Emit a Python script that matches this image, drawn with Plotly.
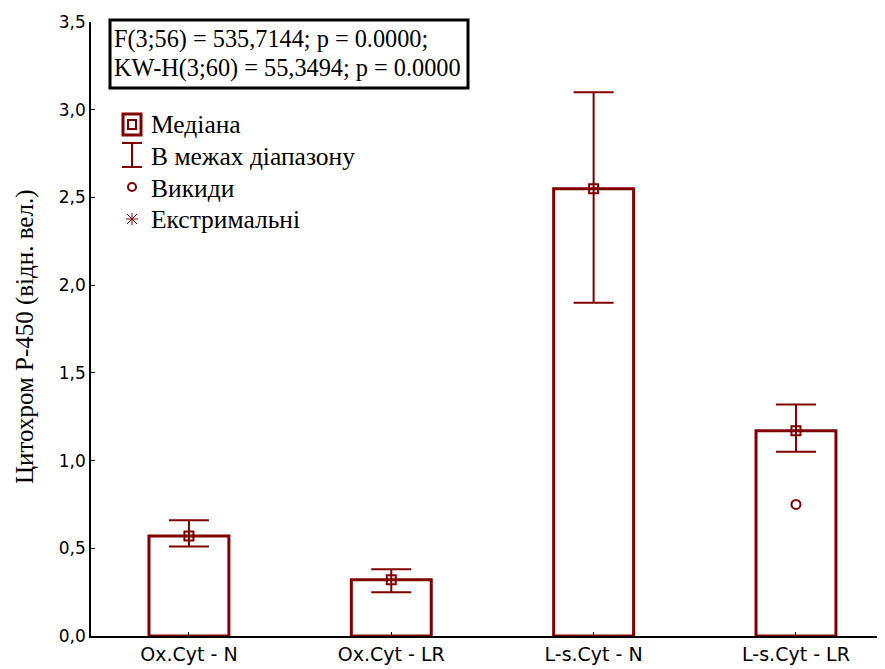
import plotly.graph_objects as go

categories = ["Ox.Cyt - N", "Ox.Cyt - LR", "L-s.Cyt - N", "L-s.Cyt - LR"]
medians = [0.57, 0.32, 2.55, 1.17]
range_max = [0.66, 0.38, 3.10, 1.32]
range_min = [0.51, 0.25, 1.90, 1.05]
outlier_cats = ["L-s.Cyt - LR"]
outlier_vals = [0.75]
stats_lines = ["F(3;56) = 535,7144; p = 0.0000;", "KW-H(3;60) = 55,3494; p = 0.0000"]
legend_labels = ["Медіана", "В межах діапазону", "Викиди", "Екстримальні"]
y_title = "Цитохром Р-450 (відн. вел.)"

RED = "#800000"
OFF = 8  # page body margin
W, H = 885 - OFF, 669 - OFF
L, R, T = 91 - OFF, 0, 22 - OFF
PH = 614
B = H - T - PH
PW = W - L - R

def px(x):
    # x in window pixels -> paper
    return (x - OFF - L) / PW

def py(y):
    # y in window pixels -> paper
    return (T + PH - (y - OFF)) / PH

fig = go.Figure()

fig.add_trace(go.Bar(
    x=categories, y=medians, width=0.395,
    marker=dict(color="white", line=dict(color=RED, width=3)),
    showlegend=False, hoverinfo="skip",
))

fig.add_trace(go.Scatter(
    x=categories, y=medians, mode="markers",
    marker=dict(symbol="square-open", size=9, color=RED, line=dict(color=RED, width=2)),
    error_y=dict(
        type="data", symmetric=False,
        array=[mx - m for mx, m in zip(range_max, medians)],
        arrayminus=[m - mn for m, mn in zip(medians, range_min)],
        color=RED, thickness=2, width=20,
    ),
    showlegend=False,
))

fig.add_trace(go.Scatter(
    x=outlier_cats, y=outlier_vals, mode="markers",
    marker=dict(symbol="circle-open", size=9, color=RED, line=dict(color=RED, width=2)),
    showlegend=False,
))

shapes = []
annotations = []

# Stats box
shapes.append(dict(type="rect", xref="paper", yref="paper",
                   x0=px(110), x1=px(468), y0=py(88), y1=py(20),
                   line=dict(color="black", width=3), fillcolor="white", layer="above"))
for i, line in enumerate(stats_lines):
    annotations.append(dict(xref="paper", yref="paper", x=px(112), y=py(39 + 29 * i),
                            xanchor="left", yanchor="middle", text=line, showarrow=False,
                            font=dict(family="Liberation Serif", size=24.3, color="black")))

# Legend
leg_y = [125, 156, 188, 219]
for lab, yy in zip(legend_labels, leg_y):
    annotations.append(dict(xref="paper", yref="paper", x=px(149), y=py(yy),
                            xanchor="left", yanchor="middle", text=lab, showarrow=False,
                            font=dict(family="Liberation Serif", size=25.5, color="black")))
# median symbol
shapes.append(dict(type="rect", xref="paper", yref="paper",
                   x0=px(123), x1=px(141), y0=py(135), y1=py(114),
                   line=dict(color=RED, width=3)))
shapes.append(dict(type="rect", xref="paper", yref="paper",
                   x0=px(128), x1=px(136), y0=py(129), y1=py(120),
                   line=dict(color=RED, width=2)))
# range symbol
for (x0, y0, x1, y1) in [(132, 143, 132, 167), (122, 143, 142, 143), (122, 167, 142, 167)]:
    shapes.append(dict(type="line", xref="paper", yref="paper",
                       x0=px(x0), x1=px(x1), y0=py(y0), y1=py(y1),
                       line=dict(color=RED, width=2)))
# outlier symbol
shapes.append(dict(type="circle", xref="paper", yref="paper",
                   x0=px(128), x1=px(136), y0=py(191), y1=py(183),
                   line=dict(color=RED, width=2)))
# extreme symbol
cx, cy = 132, 219
for (dx0, dy0, dx1, dy1) in [(-6, 0, 6, 0), (0, -6, 0, 6), (-5, -5, 5, 5), (-5, 5, 5, -5)]:
    shapes.append(dict(type="line", xref="paper", yref="paper",
                       x0=px(cx + dx0), x1=px(cx + dx1), y0=py(cy + dy0), y1=py(cy + dy1),
                       line=dict(color=RED, width=1)))

# Y title
annotations.append(dict(xref="paper", yref="paper", x=px(25), y=py(337),
                        xanchor="center", yanchor="middle", text=y_title, textangle=-90,
                        showarrow=False,
                        font=dict(family="Liberation Serif", size=25, color="black")))

fig.update_layout(
    width=W, height=H,
    margin=dict(l=L, r=R, t=T, b=B, pad=0, autoexpand=False),
    paper_bgcolor="white", plot_bgcolor="white",
    separators=", ",
    shapes=shapes, annotations=annotations,
    showlegend=False,
    xaxis=dict(type="category", range=[-0.484, 3.44], showline=True, linecolor="black",
               linewidth=1.5, ticks="inside", ticklen=4, tickcolor="black", showgrid=False,
               tickfont=dict(family="DejaVu Sans", size=19, color="black"), fixedrange=True),
    yaxis=dict(range=[0, 3.5], dtick=0.5, tick0=0, tickformat=".1f", showline=True,
               linecolor="black", linewidth=1.5, ticks="inside", ticklen=4, tickcolor="black",
               showgrid=False, zeroline=False,
               tickfont=dict(family="DejaVu Sans", size=17, color="black"), fixedrange=True),
)

fig.write_html("out.html")
